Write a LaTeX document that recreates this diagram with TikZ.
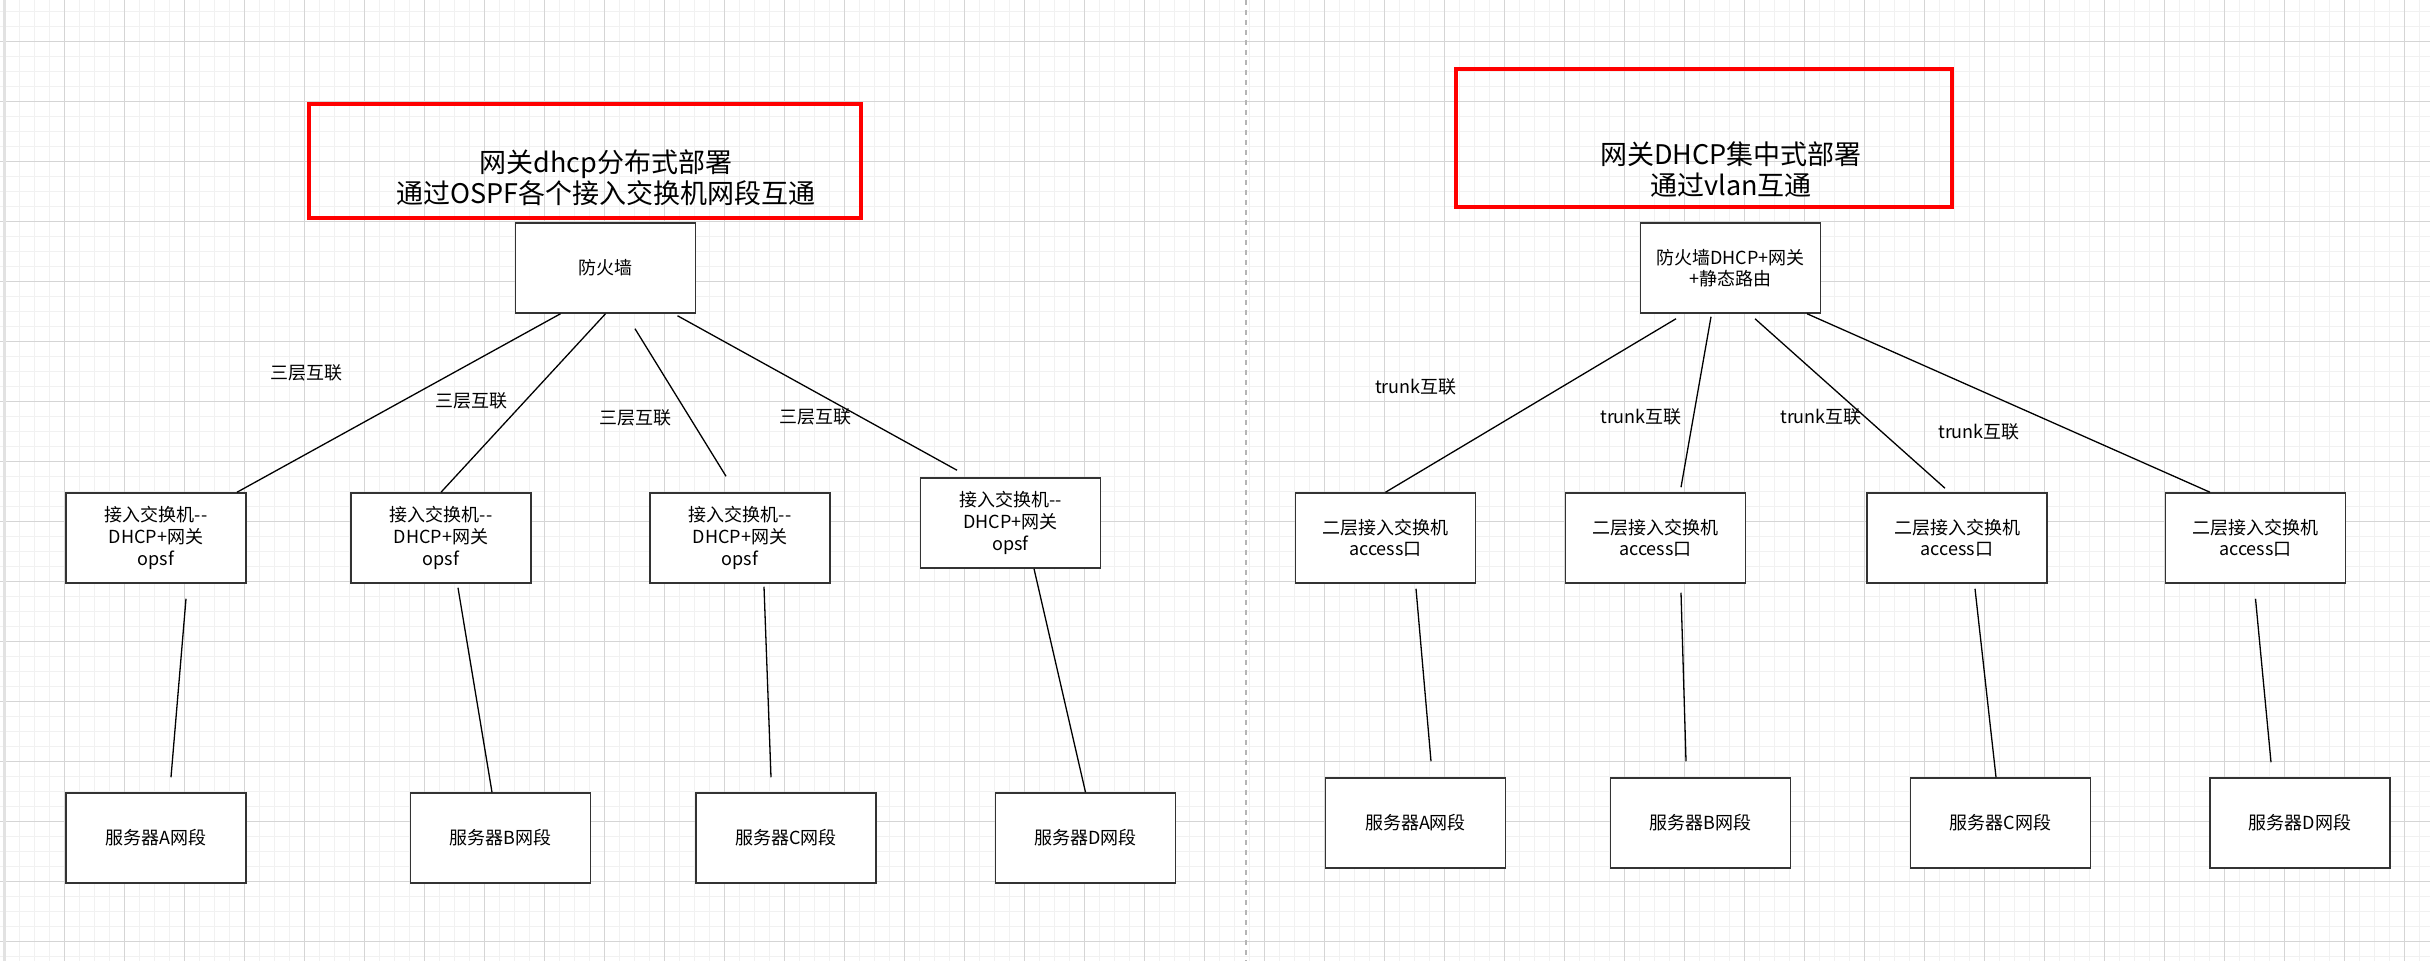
\documentclass[tikz,border=0pt]{standalone}
\usepackage{fontspec}
\newfontfamily\cjk{Noto Sans CJK SC}
\definecolor{gridmajor}{HTML}{D5D5D5}
\definecolor{gridminor}{HTML}{F1F1F1}
\definecolor{boxgray}{HTML}{333333}
\definecolor{divgray}{HTML}{B5B5B5}

\begin{document}
\begin{tikzpicture}[x=0.5pt, y=-0.5pt,
  every node/.style={font=\cjk\fontsize{9pt}{10.8pt}\selectfont},
  box/.style={draw=boxgray, line width=0.75pt, fill=white, minimum width=90pt, minimum height=45pt, inner sep=0pt, align=center},
  redframe/.style={draw=red, line width=2pt, inner sep=0pt},
  headline/.style={align=center, inner sep=0pt, font=\cjk\fontsize{13.5pt}{15.5pt}\selectfont},
  link/.style={line width=0.65pt, draw=black},
  tag/.style={inner sep=0pt}]
  \useasboundingbox (0,0) rectangle (2430,961);
  \fill[white] (0,0) rectangle (2430,961);
  \foreach \x in {4.3,19.3,...,2430} \draw[gridminor, line width=0.5pt] (\x,0) -- (\x,961);
  \foreach \y in {11.3,26.3,...,961} \draw[gridminor, line width=0.5pt] (0,\y) -- (2430,\y);
  \foreach \x in {4.3,64.3,...,2430} \draw[gridmajor, line width=0.5pt] (\x,0) -- (\x,961);
  \foreach \y in {41.3,101.3,...,961} \draw[gridmajor, line width=0.5pt] (0,\y) -- (2430,\y);
  \fill[gridmajor!70] (3,0) rectangle (6,961);
  \draw[divgray, line width=1pt, dash pattern=on 2.5pt off 2.5pt] (1246,0) -- (1246,961);

  \node[redframe, minimum width=276pt, minimum height=57pt] (frameL) at (585,161) {};
  \node[headline] (headL) at (606,178) {网关dhcp分布式部署\\通过OSPF各个接入交换机网段互通};
  \node[box] (fw1) at (605.5,268) {防火墙};
  \node[box] (sw1) at (156,538) {接入交换机-{}-\\DHCP+网关\\opsf};
  \node[box] (sw2) at (441,538) {接入交换机-{}-\\DHCP+网关\\opsf};
  \node[box] (sw3) at (740,538) {接入交换机-{}-\\DHCP+网关\\opsf};
  \node[box] (sw4) at (1010.5,523) {接入交换机-{}-\\DHCP+网关\\opsf};
  \node[box] (srvA) at (156,838) {服务器A网段};
  \node[box] (srvB) at (500.5,838) {服务器B网段};
  \node[box] (srvC) at (786,838) {服务器C网段};
  \node[box] (srvD) at (1085.5,838) {服务器D网段};
  \node[tag] (l3a) at (306,373) {三层互联};
  \node[tag] (l3b) at (471,401) {三层互联};
  \node[tag] (l3c) at (635,418) {三层互联};
  \node[tag] (l3d) at (815,417) {三层互联};
  \draw[link] ([shift={(-45,0)}]fw1.south) -- ([shift={(81,0)}]sw1.north);
  \draw[link] (fw1.south) -- (sw2.north);
  \draw[link] ([shift={(29.5,15)}]fw1.south) -- ([shift={(-14,-16)}]sw3.north);
  \draw[link] ([shift={(72,2)}]fw1.south) -- ([shift={(-53.5,-7)}]sw4.north);
  \draw[link] ([shift={(30,15)}]sw1.south) -- ([shift={(15,-15)}]srvA.north);
  \draw[link] ([shift={(17,4)}]sw2.south) -- ([shift={(-8.5,0)}]srvB.north);
  \draw[link] ([shift={(24,3)}]sw3.south) -- ([shift={(-15,-15)}]srvC.north);
  \draw[link] ([shift={(23.5,0)}]sw4.south) -- (srvD.north);

  \node[redframe, minimum width=248pt, minimum height=69pt] (frameR) at (1704,138) {};
  \node[headline] (headR) at (1731,170) {网关DHCP集中式部署\\通过vlan互通};
  \node[box] (fw2) at (1730.5,268) {防火墙DHCP+网关\\+静态路由};
  \node[box] (rsw1) at (1385.5,538) {二层接入交换机\\access口};
  \node[box] (rsw2) at (1655.5,538) {二层接入交换机\\access口};
  \node[box] (rsw3) at (1957,538) {二层接入交换机\\access口};
  \node[box] (rsw4) at (2255.5,538) {二层接入交换机\\access口};
  \node[box] (rsrvA) at (1415.5,823) {服务器A网段};
  \node[box] (rsrvB) at (1700.5,823) {服务器B网段};
  \node[box] (rsrvC) at (2000.5,823) {服务器C网段};
  \node[box] (rsrvD) at (2300,823) {服务器D网段};
  \node[tag] (tka) at (1416,387) {trunk互联};
  \node[tag] (tkb) at (1641,417) {trunk互联};
  \node[tag] (tkc) at (1821,417) {trunk互联};
  \node[tag] (tkd) at (1979,432) {trunk互联};
  \draw[link] ([shift={(-54.5,5)}]fw2.south) -- (rsw1.north);
  \draw[link] ([shift={(-19.5,3)}]fw2.south) -- ([shift={(25.5,-5)}]rsw2.north);
  \draw[link] ([shift={(24.5,5)}]fw2.south) -- ([shift={(-12,-4)}]rsw3.north);
  \draw[link] ([shift={(76.5,0)}]fw2.south) -- ([shift={(-45.5,0)}]rsw4.north);
  \draw[link] ([shift={(30.5,5)}]rsw1.south) -- ([shift={(15.5,-16)}]rsrvA.north);
  \draw[link] ([shift={(25.5,9)}]rsw2.south) -- ([shift={(-14.5,-16)}]rsrvB.north);
  \draw[link] ([shift={(18,5)}]rsw3.south) -- ([shift={(-4.5,0)}]rsrvC.north);
  \draw[link] ([shift={(0,15)}]rsw4.south) -- ([shift={(-29,-15)}]rsrvD.north);
\end{tikzpicture}
\end{document}
